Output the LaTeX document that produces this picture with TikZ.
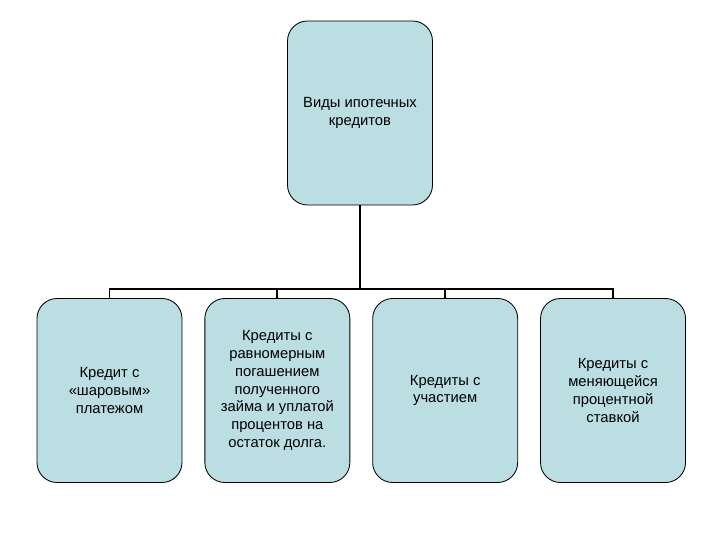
\documentclass[tikz,border=0pt]{standalone}
\usepackage{fontspec}
\setmainfont{Liberation Sans}
\usepackage{xcolor}
\usetikzlibrary{positioning}

\definecolor{boxfill}{RGB}{186,222,225}

\begin{document}
\begin{tikzpicture}[
    box/.style={draw, rounded corners=5mm, align=center, fill=boxfill,
                minimum width=36.25mm, minimum height=46mm, line width=0.6pt,
                font=\fontsize{10.5}{12.6}\selectfont},
    link/.style={line width=1.4pt}
  ]
  \useasboundingbox (0,0) rectangle (18,13.5);

  \node[box] (root) at (9,10.675) {Виды ипотечных\\кредитов};

  \node[box] (ball) at (2.7375,3.7375) {Кредит с\\«шаровым»\\платежом};
  \node[box, right=5.5mm of ball] (even) {Кредиты с\\равномерным\\погашением\\полученного\\займа и уплатой\\процентов на\\остаток долга.};
  \node[box, right=5.5mm of even] (part) {Кредиты с\\участием};
  \node[box, right=5.5mm of part] (float) {Кредиты с\\меняющейся\\процентной\\ставкой};

  \coordinate (bus) at (9,6.275);

  \draw[link] (root.south) -- (bus);
  \draw[link] (ball.north) |- (bus) -| (float.north);
  \draw[link] (even.north) -- (even.north |- bus);
  \draw[link] (part.north) -- (part.north |- bus);
\end{tikzpicture}
\end{document}
